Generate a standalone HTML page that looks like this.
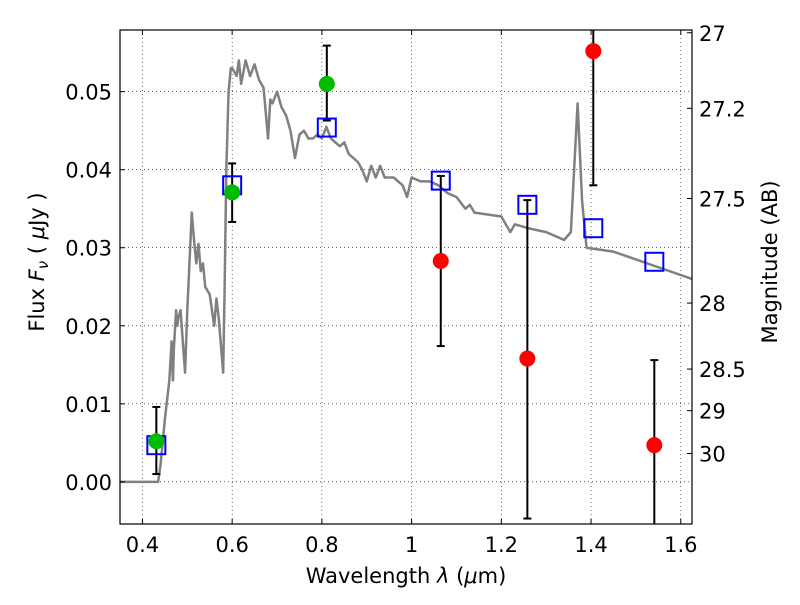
<!DOCTYPE html>
<html><head><meta charset="utf-8"><style>
body{margin:0;background:#fff;}
svg text{font-family:"DejaVu Sans","Liberation Sans",sans-serif;fill:#000;}
</style></head><body>
<svg id="chart" width="800" height="600" xmlns="http://www.w3.org/2000/svg">
<rect width="800" height="600" fill="#fff"/>
<g id="grid"></g>
<g id="plot"></g>
<g id="axes"></g>
<text x="406" y="583" font-size="21" text-anchor="middle">Wavelength  <tspan font-style="italic">λ</tspan> (<tspan font-style="italic">μ</tspan>m)</text>
<text transform="translate(44,262) rotate(-90)" font-size="21" text-anchor="middle">Flux  <tspan font-style="italic">F<tspan font-size="15" dy="4">ν</tspan></tspan><tspan dy="-4">  ( <tspan font-style="italic">μ</tspan>Jy )</tspan></text>
<text transform="translate(777,262) rotate(-90)" font-size="21" text-anchor="middle">Magnitude (AB)</text>
</svg>
<script>
const xTicks=[0.4,0.6,0.8,1.0,1.2,1.4,1.6];
const xTickLabels=["0.4","0.6","0.8","1","1.2","1.4","1.6"];
const yTicks=[0,0.01,0.02,0.03,0.04,0.05];
const yTickLabels=["0.00","0.01","0.02","0.03","0.04","0.05"];
const magTicks=[27,27.2,27.5,28,28.5,29,30];
const magTickLabels=["27","27.2","27.5","28","28.5","29","30"];
const sedLam=[0.35,0.435,0.44,0.45,0.46,0.465,0.468,0.47,0.475,0.478,0.48,0.485,0.49,0.495,0.5,0.51,0.515,0.52,0.525,0.53,0.535,0.54,0.55,0.56,0.565,0.57,0.58,0.583,0.587,0.592,0.597,0.6,0.61,0.615,0.62,0.63,0.64,0.65,0.66,0.67,0.68,0.685,0.69,0.7,0.71,0.72,0.73,0.74,0.75,0.76,0.77,0.78,0.79,0.8,0.81,0.82,0.83,0.84,0.85,0.86,0.88,0.89,0.9,0.91,0.92,0.93,0.94,0.96,0.98,0.99,1.0,1.02,1.04,1.06,1.08,1.1,1.12,1.13,1.14,1.2,1.21,1.22,1.23,1.26,1.3,1.34,1.355,1.37,1.38,1.39,1.45,1.5,1.55,1.625];
const sedFlux=[0,0,0.002,0.008,0.013,0.018,0.013,0.017,0.022,0.020,0.021,0.022,0.018,0.014,0.022,0.0345,0.031,0.028,0.0305,0.027,0.028,0.025,0.024,0.020,0.0235,0.021,0.014,0.024,0.040,0.050,0.053,0.053,0.052,0.054,0.051,0.054,0.052,0.0535,0.0515,0.0505,0.044,0.049,0.0485,0.050,0.048,0.047,0.045,0.0415,0.0445,0.045,0.044,0.044,0.0445,0.044,0.0455,0.044,0.0435,0.043,0.0435,0.042,0.041,0.040,0.0385,0.0405,0.039,0.0405,0.039,0.039,0.038,0.0365,0.039,0.0385,0.0385,0.038,0.037,0.0365,0.035,0.0355,0.0345,0.034,0.033,0.032,0.033,0.0325,0.032,0.031,0.032,0.0485,0.036,0.030,0.0295,0.0285,0.0275,0.026];
const modelLam=[0.431,0.6,0.811,1.065,1.258,1.405,1.541];
const modelFlux=[0.0047,0.038,0.0454,0.0386,0.0355,0.0325,0.0282];
const greenLam=[0.431,0.6,0.811];
const greenFlux=[0.0052,0.0371,0.0510];
const greenLo=[0.0010,0.0333,0.0463];
const greenHi=[0.0096,0.0408,0.0559];
const redLam=[1.065,1.258,1.405,1.541];
const redFlux=[0.0283,0.0158,0.0552,0.0047];
const redLo=[0.0174,-0.0047,0.038,-0.008];
const redHi=[0.0392,0.0361,0.066,0.0156];

const L=120,R=692,T=30,B=524,xMin=0.35,xMax=1.625,yMin=-0.0054,yMax=0.0579;
const X=v=>L+(v-xMin)/(xMax-xMin)*(R-L);
const Y=v=>B-(v-yMin)/(yMax-yMin)*(B-T);
const magToFlux=m=>Math.pow(10,(23.9-m)/2.5);
const NS="http://www.w3.org/2000/svg";
function mk(tag,attrs,parent){const e=document.createElementNS(NS,tag);for(const k in attrs)e.setAttribute(k,attrs[k]);parent.appendChild(e);return e;}
const grid=document.getElementById('grid'),plot=document.getElementById('plot'),axes=document.getElementById('axes');
const clip=mk('clipPath',{id:'clp'},document.getElementById('chart'));
mk('rect',{x:L,y:T,width:R-L,height:B-T},clip);
plot.setAttribute('clip-path','url(#clp)');

xTicks.forEach((t,i)=>{
  const g=mk('line',{x1:X(t),x2:X(t),y1:T,y2:B,stroke:'#000','stroke-width':0.6,'stroke-dasharray':'1,3'},grid);
  
  
  mk('line',{x1:X(t),x2:X(t),y1:B,y2:B-5,stroke:'#000'},axes);
  mk('line',{x1:X(t),x2:X(t),y1:T,y2:T+5,stroke:'#000'},axes);
  const tx=mk('text',{x:X(t),y:B+28,'font-size':21,'text-anchor':'middle'},axes);
  tx.textContent=xTickLabels[i];
  
  
});
yTicks.forEach((t,i)=>{
  const g=mk('line',{x1:L,x2:R,y1:Y(t),y2:Y(t),stroke:'#000','stroke-width':0.6,'stroke-dasharray':'1,3'},grid);
  
  
  mk('line',{x1:L,x2:L+5,y1:Y(t),y2:Y(t),stroke:'#000'},axes);
  const tx=mk('text',{x:L-8,y:Y(t)+8,'font-size':21,'text-anchor':'end'},axes);
  tx.textContent=yTickLabels[i];
  
  
});
magTicks.forEach((m,i)=>{
  const y=Y(magToFlux(m));
  mk('line',{x1:R,x2:R-5,y1:y,y2:y,stroke:'#000'},axes);
  const tx=mk('text',{x:R+7,y:y+8,'font-size':21},axes);
  tx.textContent=magTickLabels[i];
  
  
});
const frame=mk('rect',{x:L,y:T,width:R-L,height:B-T,fill:'none',stroke:'#000','stroke-width':1.2},axes);



const sed=mk('polyline',{points:sedLam.map((l,i)=>X(l)+','+Y(sedFlux[i])).join(' '),fill:'none',stroke:'#808080','stroke-width':2.5,'stroke-linejoin':'round'},plot);



function err(l,lo,hi){
  const g=mk('g',{stroke:'#000','stroke-width':2},plot);
  
  
  mk('line',{x1:X(l),x2:X(l),y1:Y(lo),y2:Y(hi)},g);
  mk('line',{x1:X(l)-4,x2:X(l)+4,y1:Y(lo),y2:Y(lo)},g);
  mk('line',{x1:X(l)-4,x2:X(l)+4,y1:Y(hi),y2:Y(hi)},g);
}
greenLam.forEach((l,i)=>err(l,greenLo[i],greenHi[i]));
redLam.forEach((l,i)=>err(l,redLo[i],redHi[i]));
modelLam.forEach((l,i)=>{
  const r=mk('rect',{x:X(l)-9,y:Y(modelFlux[i])-9,width:18,height:18,fill:'none',stroke:'#0000ff','stroke-width':2},plot);
  
  
});
greenLam.forEach((l,i)=>{
  const c=mk('circle',{cx:X(l),cy:Y(greenFlux[i]),r:8,fill:'#00bb00'},plot);
  
  
});
redLam.forEach((l,i)=>{
  const c=mk('circle',{cx:X(l),cy:Y(redFlux[i]),r:8,fill:'#ff0000'},plot);
  
  
});
</script>
</body></html>
